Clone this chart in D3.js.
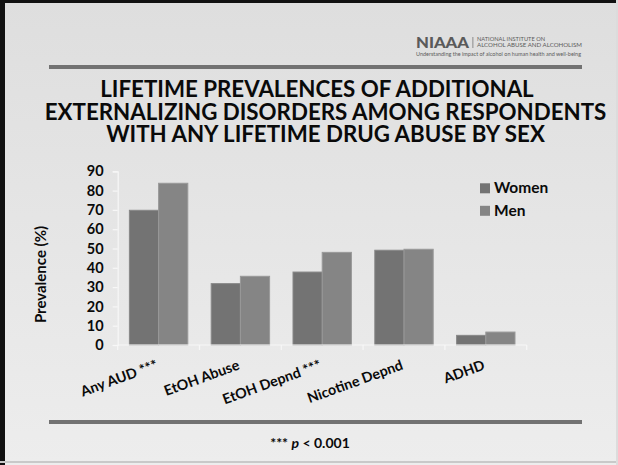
<!DOCTYPE html>
<html>
<head>
<meta charset="utf-8">
<script src="https://cdn.jsdelivr.net/npm/d3@7"></script>
<style>
  html, body { margin: 0; padding: 0; background: #e6e6e6; }
  svg { display: block; }
  text { font-family: Lato, "Open Sans", sans-serif; }
</style>
</head>
<body>
<svg id="chart" width="618" height="465"></svg>
<script>
// ---- data ----
const categories = ["Any AUD ***", "EtOH Abuse", "EtOH Depnd ***", "Nicotine Depnd", "ADHD"];
const seriesNames = ["Women", "Men"];
const women = [69.8, 31.8, 37.8, 49.1, 5.0];
const men = [83.8, 35.6, 48.0, 49.6, 6.7];
const yTicks = [0, 10, 20, 30, 40, 50, 60, 70, 80, 90];
const titleLines = ["LIFETIME PREVALENCES OF ADDITIONAL", "EXTERNALIZING DISORDERS AMONG RESPONDENTS", "WITH ANY LIFETIME DRUG ABUSE BY SEX"];

const colors = { Women: "#737373", Men: "#858585" };
const W = 618, H = 465;
const svg = d3.select("#chart");

// background gradient
const defs = svg.append("defs");
const grad = defs.append("linearGradient").attr("id", "bg").attr("x1", 0).attr("y1", 0).attr("x2", 0).attr("y2", 1);
grad.append("stop").attr("offset", "0%").attr("stop-color", "#dedede");
grad.append("stop").attr("offset", "100%").attr("stop-color", "#ededed");
svg.append("rect").attr("width", W).attr("height", H).attr("fill", "url(#bg)");

// frame
svg.append("rect").attr("x", 0).attr("y", 0).attr("width", 5).attr("height", H).attr("fill", "#111");
svg.append("rect").attr("x", 0).attr("y", 0).attr("width", W).attr("height", 3).attr("fill", "#111");
svg.append("rect").attr("x", 0).attr("y", 461).attr("width", W).attr("height", 2).attr("fill", "#c9c9c9");
svg.append("rect").attr("x", 616).attr("y", 0).attr("width", 2).attr("height", H).attr("fill", "#dcdcdc");

// rules
svg.append("rect").attr("x", 49).attr("y", 65).attr("width", 533).attr("height", 4).attr("fill", "#727272");
svg.append("rect").attr("x", 49).attr("y", 420).attr("width", 533).attr("height", 4).attr("fill", "#727272");

// logo
const logo = svg.append("g").attr("fill", "#5a5a5a");
logo.append("text").attr("x", 416).attr("y", 47.5).attr("font-size", 15).attr("font-weight", 900)
  .attr("textLength", 53).attr("lengthAdjust", "spacingAndGlyphs").text("NIAAA");
logo.append("rect").attr("x", 472.5).attr("y", 37).attr("width", 0.8).attr("height", 11).attr("fill", "#777");
logo.append("text").attr("x", 477).attr("y", 41).attr("font-size", 5.6).attr("textLength", 68)
  .attr("lengthAdjust", "spacingAndGlyphs").text("NATIONAL INSTITUTE ON");
logo.append("text").attr("x", 477).attr("y", 47.3).attr("font-size", 5.6).attr("textLength", 105)
  .attr("lengthAdjust", "spacingAndGlyphs").text("ALCOHOL ABUSE AND ALCOHOLISM");
logo.append("text").attr("x", 416).attr("y", 56).attr("font-size", 4.8).attr("textLength", 165)
  .attr("lengthAdjust", "spacingAndGlyphs").text("Understanding the impact of alcohol on human health and well-being");

// title (one text element, three lines)
const titleSpecs = [{ cx: 317, y: 97 }, { cx: 325.5, y: 119.5 }, { cx: 325.5, y: 142 }];
const title = svg.append("text").attr("text-anchor", "middle").attr("font-size", 22.3)
  .attr("font-weight", 700).attr("fill", "#0a0a0a");
titleLines.forEach((t, i) => {
  title.append("tspan").attr("x", titleSpecs[i].cx).attr("y", titleSpecs[i].y).text(t);
});

// scales
const x0 = d3.scaleBand().domain(categories).range([117.7, 526.7]).paddingInner(0.286).paddingOuter(0.143);
const x1 = d3.scaleBand().domain(seriesNames).range([0, x0.bandwidth()]);
const y = d3.scaleLinear().domain([0, 90]).range([345, 171.3]);

// bars
const rows = categories.map((c, i) => ({ cat: c, vals: [{ s: "Women", v: women[i] }, { s: "Men", v: men[i] }] }));
const g = svg.append("g");
g.selectAll("g.grp").data(rows).join("g").attr("class", "grp")
  .attr("transform", d => `translate(${x0(d.cat)},0)`)
  .selectAll("rect").data(d => d.vals).join("rect")
  .attr("x", d => x1(d.s)).attr("width", x1.bandwidth())
  .attr("y", d => y(d.v)).attr("height", d => y(0) - y(d.v))
  .attr("fill", d => colors[d.s]).attr("stroke", d => d.s === "Women" ? "#888" : "#999").attr("stroke-width", 1);

// y axis
const yAxis = d3.axisLeft(y).tickValues(yTicks).tickSize(5).tickPadding(9);
const ya = svg.append("g").attr("transform", "translate(117.7,0)").call(yAxis);
ya.select(".domain").attr("stroke", "#f7f7f7").attr("stroke-width", 1.2);
ya.selectAll(".tick line").attr("stroke", "#f7f7f7").attr("stroke-width", 1.2);
ya.selectAll(".tick text").attr("font-family", "Lato").attr("font-size", 14.5).attr("font-weight", 700).attr("fill", "#0a0a0a");

// x axis
const xa = svg.append("g").attr("transform", `translate(0,${y(0)})`);
xa.append("line").attr("x1", x0.range()[0]).attr("x2", x0.range()[1]).attr("stroke", "#f7f7f7").attr("stroke-width", 1.2);
const bounds = d3.range(categories.length + 1).map(i => x0.range()[0] + i * x0.step());
xa.selectAll("line.tk").data(bounds).join("line").attr("class", "tk")
  .attr("x1", d => d).attr("x2", d => d).attr("y1", 0).attr("y2", 5).attr("stroke", "#f7f7f7").attr("stroke-width", 1.2);
xa.selectAll("text.lbl").data(categories).join("text").attr("class", "lbl")
  .attr("transform", d => `translate(${x0(d) + x0.bandwidth() / 2},24) rotate(-20)`)
  .attr("text-anchor", "end").attr("font-size", 14.3).attr("font-weight", 700).attr("fill", "#0a0a0a")
  .text(d => d);

// y title
svg.append("text").attr("transform", "translate(46,274.5) rotate(-90)").attr("text-anchor", "middle")
  .attr("font-size", 15).attr("font-weight", 700).attr("fill", "#0a0a0a").text("Prevalence (%)");

// legend
const leg = svg.append("g").attr("transform", "translate(480,183.3)");
const li = leg.selectAll("g").data(seriesNames).join("g").attr("transform", (d, i) => `translate(0,${i * 22.5})`);
li.append("rect").attr("width", 10).attr("height", 10).attr("fill", d => colors[d]);
li.append("text").attr("x", 14).attr("y", 10).attr("font-size", 15.5).attr("font-weight", 700).attr("fill", "#0a0a0a").text(d => d);

// footnote
const fn = svg.append("text").attr("x", 310).attr("y", 447.5).attr("text-anchor", "middle")
  .attr("font-size", 14).attr("font-weight", 700).attr("fill", "#0a0a0a");
fn.append("tspan").text("*** ");
fn.append("tspan").attr("font-style", "italic").text("p");
fn.append("tspan").text(" < 0.001");
</script>
</body>
</html>
